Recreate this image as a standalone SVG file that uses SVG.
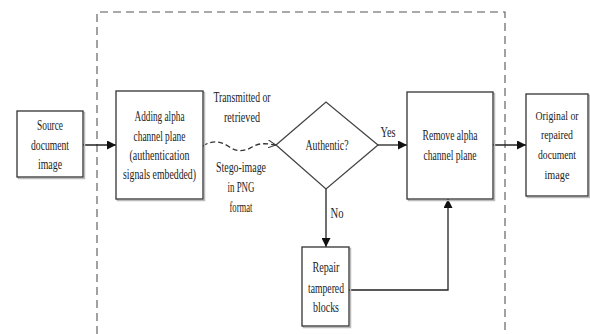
<svg xmlns="http://www.w3.org/2000/svg" width="590" height="334" viewBox="0 0 590 334">
<defs>
<marker id="ah" viewBox="0 0 10 10" refX="10" refY="5" markerWidth="10" markerHeight="9" markerUnits="userSpaceOnUse" orient="auto">
<path d="M0,0 L10,5 L0,10 Z" fill="#111"/>
</marker>
<marker id="ao" viewBox="0 0 10 10" refX="10" refY="5" markerWidth="8" markerHeight="8" markerUnits="userSpaceOnUse" orient="auto">
<path d="M0,0 L10,5 L0,10" fill="none" stroke="#333" stroke-width="1.2"/>
</marker>
</defs>
<style>
.box{fill:#fff;stroke:#333;stroke-width:1.3}
.sh{fill:none;stroke:#bbb;stroke-width:1.5}
.ln{fill:none;stroke:#222;stroke-width:1.3}
.t{font-family:"Liberation Serif","Times New Roman",serif;font-size:14px;fill:#222;text-anchor:middle}
.s{font-size:12px}
</style>
<rect width="590" height="334" fill="#fff"/>
<g id="boundary">
<path d="M97,334 L97,12 L505,12 L505,334" fill="none" stroke="#555" stroke-width="1.1" stroke-dasharray="8,5"/>
</g>
<g id="connectors">
<path class="ln" d="M83,145 L116,145" marker-end="url(#ah)"/>
<path d="M203,146 C212,140 220,141 228,146 C236,152 244,152 252,147 C260,142 268,144 276,145" fill="none" stroke="#333" stroke-width="1.3" stroke-dasharray="5,3" marker-end="url(#ao)"/>
<path class="ln" d="M378,145 L407,145" marker-end="url(#ah)"/>
<path class="ln" d="M493,145 L526,145" marker-end="url(#ah)"/>
<path class="ln" d="M326,189 L326,247" marker-end="url(#ah)"/>
<path class="ln" d="M349,290 L448,290 L448,199" marker-end="url(#ah)"/>
</g>
<g id="source">
<rect class="sh" x="18.5" y="112.5" width="66" height="66"/>
<rect class="box" x="17" y="111" width="66" height="66"/>
<text class="t" x="50" y="130" textLength="26" lengthAdjust="spacingAndGlyphs">Source</text>
<text class="t" x="50" y="150" textLength="38" lengthAdjust="spacingAndGlyphs">document</text>
<text class="t" x="50" y="169" textLength="24" lengthAdjust="spacingAndGlyphs">image</text>
</g>
<g id="embed">
<rect class="sh" x="117.5" y="92.5" width="87" height="108"/>
<rect class="box" x="116" y="91" width="87" height="108"/>
<text class="t" x="159.5" y="121" textLength="50" lengthAdjust="spacingAndGlyphs">Adding alpha</text>
<text class="t" x="159.5" y="141" textLength="52" lengthAdjust="spacingAndGlyphs">channel plane</text>
<text class="t" x="159.5" y="160" textLength="60" lengthAdjust="spacingAndGlyphs">(authentication</text>
<text class="t" x="159.5" y="179" textLength="73" lengthAdjust="spacingAndGlyphs">signals embedded)</text>
</g>
<g id="channel-labels">
<text class="t" x="242" y="102" textLength="57" lengthAdjust="spacingAndGlyphs">Transmitted or</text>
<text class="t" x="242" y="122" textLength="36" lengthAdjust="spacingAndGlyphs">retrieved</text>
<text class="t" x="241" y="172" textLength="50" lengthAdjust="spacingAndGlyphs">Stego-image</text>
<text class="t" x="241" y="192" textLength="27" lengthAdjust="spacingAndGlyphs">in PNG</text>
<text class="t" x="241" y="212" textLength="23" lengthAdjust="spacingAndGlyphs">format</text>
</g>
<g id="authentic">
<path d="M276,145 L326,102 L378,145 L326,189 Z" fill="#fff" stroke="#444" stroke-width="1.3"/>
<text class="t" x="327" y="150" textLength="43" lengthAdjust="spacingAndGlyphs">Authentic?</text>
</g>
<g id="edge-labels">
<text class="t" x="388" y="137" textLength="15" lengthAdjust="spacingAndGlyphs">Yes</text>
<text class="t" x="337" y="218" textLength="13" lengthAdjust="spacingAndGlyphs">No</text>
</g>
<g id="remove">
<rect class="sh" x="408.5" y="93.5" width="86" height="107"/>
<rect class="box" x="407" y="92" width="86" height="107"/>
<text class="t" x="450" y="140" textLength="55" lengthAdjust="spacingAndGlyphs">Remove alpha</text>
<text class="t" x="450" y="160" textLength="53" lengthAdjust="spacingAndGlyphs">channel plane</text>
</g>
<g id="repair">
<rect class="sh" x="303.5" y="248.5" width="47" height="79"/>
<rect class="box" x="302" y="247" width="47" height="79"/>
<text class="t" x="326" y="272" textLength="27" lengthAdjust="spacingAndGlyphs">Repair</text>
<text class="t" x="326" y="293" textLength="36" lengthAdjust="spacingAndGlyphs">tampered</text>
<text class="t" x="326" y="312" textLength="26" lengthAdjust="spacingAndGlyphs">blocks</text>
</g>
<g id="output">
<rect class="sh" x="527.5" y="95.5" width="62" height="102"/>
<rect class="box" x="526" y="94" width="62" height="102"/>
<text class="t s" x="557" y="120" textLength="43" lengthAdjust="spacingAndGlyphs">Original or</text>
<text class="t s" x="557" y="139" textLength="32" lengthAdjust="spacingAndGlyphs">repaired</text>
<text class="t s" x="557" y="159" textLength="38" lengthAdjust="spacingAndGlyphs">document</text>
<text class="t s" x="557" y="179" textLength="25" lengthAdjust="spacingAndGlyphs">image</text>
</g>
</svg>
